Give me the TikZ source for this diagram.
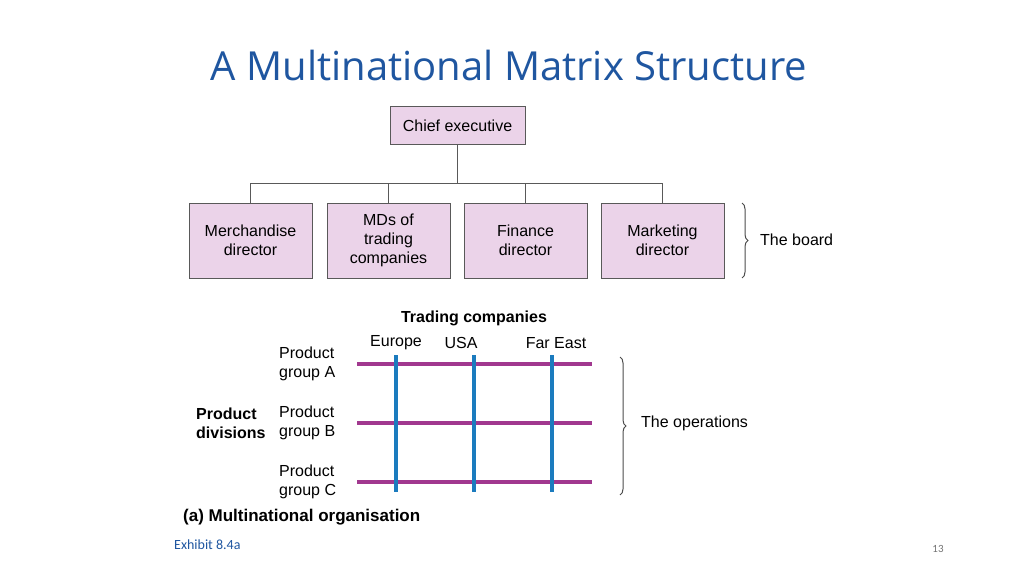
\documentclass[tikz,border=0pt]{standalone}
\usepackage{fontspec}
\setmainfont{Liberation Sans}
\newfontfamily\titlefont{Open Sans}
\newfontfamily\notefont{Carlito}
\usetikzlibrary{calc,positioning,decorations.pathreplacing}
\definecolor{titleblue}{HTML}{1F56A0}
\definecolor{boxfill}{HTML}{EBD3E9}
\definecolor{rowpurple}{HTML}{A1388F}
\definecolor{colblue}{HTML}{1B7BBE}
\tikzset{
  post/.style={draw=black!65,fill=boxfill,line width=1pt,align=center,font=\fontsize{16}{19}\selectfont,inner sep=0pt},
  wire/.style={draw=black!65,line width=1pt},
  lbl/.style={font=\fontsize{16}{19}\selectfont,inner sep=0pt},
  grp/.style={lbl,align=left,anchor=west},
  brc/.style={decorate,decoration={brace,amplitude=6pt},line width=1pt,black!70},
}
\begin{document}
\begin{tikzpicture}[x=1pt,y=-1pt]
  \useasboundingbox (0,0) rectangle (1024,575);
  % title
  \node[font=\titlefont\fontsize{40}{46}\selectfont,text=titleblue] (title) at (509,66) {A Multinational Matrix Structure};
  % the board
  \node[post,minimum width=135pt,minimum height=37pt] (chief) at (457.5,125.5) {Chief executive};
  \foreach \n/\x/\t in {merch/250.5/{Merchandise\\director},mds/388.5/{MDs of\\trading\\companies},fin/525.5/{Finance\\director},mkt/662.5/{Marketing\\director}} {
    \node[post,minimum width=123pt,minimum height=75pt] (\n) at (\x,240.5) {\t};
  }
  \coordinate (bus) at (457.5,183);
  \draw[wire] (chief) -- (bus);
  \draw[wire] (merch.north |- bus) -- (mkt.north |- bus);
  \foreach \n in {merch,mds,fin,mkt} {
    \draw[wire] (\n.north |- bus) -- (\n.north);
  }
  \draw[brc] (742,203) -- (742,278);
  \node[lbl,anchor=west] (board) at (760,240) {The board};
  % the operations
  \node[lbl,font=\bfseries\fontsize{16}{19}\selectfont] (trading) at (474,318) {Trading companies};
  \node[lbl] (europe) at (396,343) {Europe};
  \node[lbl] (usa) at (461,343) {USA};
  \node[lbl] (fareast) at (556,343) {Far East};
  \foreach \n/\y/\g in {ga/364/A,gb/423/B,gc/482/C} {
    \node[grp] (\n) at (279,\y) {Product\\group \g};
    \draw[rowpurple,line width=3.5pt] (357,\y) -- (592,\y);
  }
  \foreach \x in {396,474,552} {
    \draw[colblue,line width=3.5pt] (\x,355) -- (\x,492);
  }
  \node[grp,font=\bfseries\fontsize{16}{19}\selectfont] (div) at (196,423) {Product\\divisions};
  \draw[brc] (620,357) -- (620,495);
  \node[lbl,anchor=west] (ops) at (641,423) {The operations};
  \node[lbl,anchor=west,font=\bfseries\fontsize{17}{20}\selectfont] (caption) at (183,517) {(a) Multinational organisation};
  % footer
  \node[anchor=west,inner sep=0pt,text=titleblue,font=\notefont\fontsize{14}{16}\selectfont] (exhibit) at (174,545) {Exhibit 8.4a};
  \node[inner sep=0pt,text=black!55,font=\notefont\fontsize{11}{13}\selectfont] (page) at (938,549) {13};
\end{tikzpicture}
\end{document}
